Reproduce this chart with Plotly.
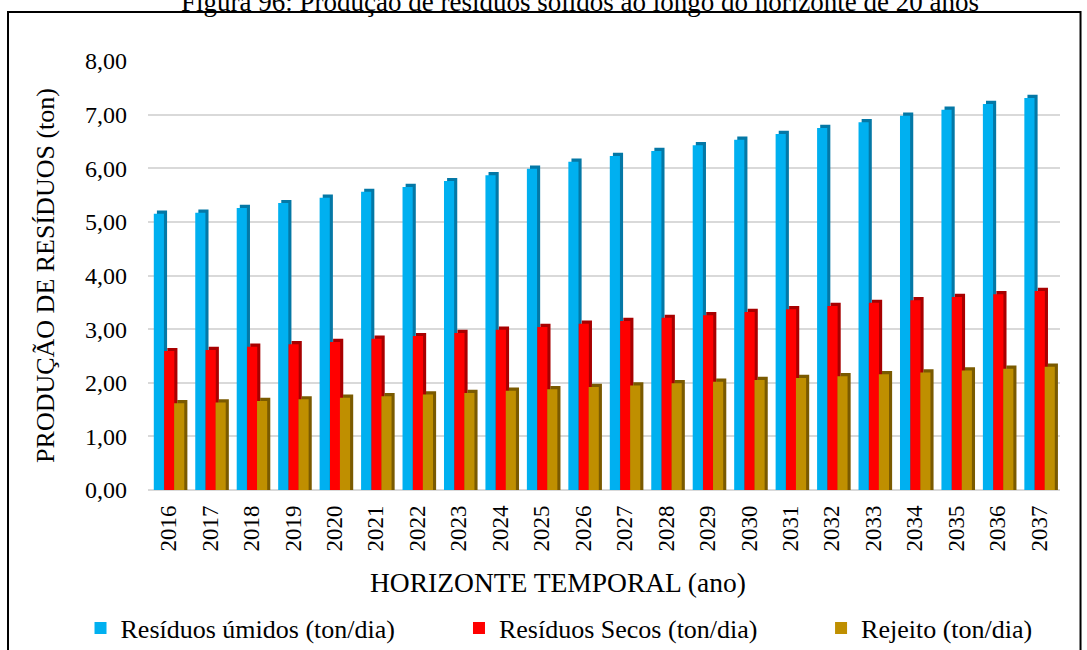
import plotly.graph_objects as go

# Waste production projection, 2016-2037 (ton/day)
anos = [str(a) for a in range(2016, 2038)]
residuos_umidos = [5.15, 5.17, 5.26, 5.35, 5.45, 5.56, 5.65, 5.76, 5.87, 5.99, 6.12,
                   6.23, 6.32, 6.43, 6.53, 6.64, 6.75, 6.86, 6.98, 7.09, 7.20, 7.31]
residuos_secos = [2.59, 2.61, 2.67, 2.72, 2.76, 2.82, 2.87, 2.93, 2.99, 3.04, 3.10,
                  3.15, 3.21, 3.26, 3.32, 3.37, 3.43, 3.49, 3.54, 3.60, 3.65, 3.71]
rejeito = [1.62, 1.63, 1.66, 1.69, 1.72, 1.75, 1.78, 1.81, 1.85, 1.88, 1.92,
           1.95, 1.99, 2.02, 2.05, 2.09, 2.12, 2.16, 2.19, 2.23, 2.26, 2.30]

# name, values, face colour, side colour, offset within the group, legend id, legend x
series = [
    ("Resíduos úmidos (ton/dia)", residuos_umidos, "#00B0F0", "#0478A6", -0.36, "legend", -0.074),
    ("Resíduos Secos (ton/dia)", residuos_secos, "#FF0000", "#A80000", -0.11, "legend2", 0.341),
    ("Rejeito (ton/dia)", rejeito, "#BF8F00", "#7A5A00", 0.13, "legend3", 0.738),
]

FONT = "Times New Roman, Liberation Serif, serif"
BAR_W = 0.245
DEPTH_X = 0.075   # sideways depth of the pseudo-3D face (category units)
DEPTH_Y = 0.06    # vertical depth of the pseudo-3D face (data units)

fig = go.Figure()
legends = {}
for nome, valores, cor, cor_lado, desloc, leg, leg_x in series:
    # darker back face gives each column a bit of depth
    fig.add_trace(go.Bar(
        x=anos, y=[v + DEPTH_Y for v in valores], offset=desloc + DEPTH_X, width=BAR_W,
        marker=dict(color=cor_lado, line=dict(width=0)), showlegend=False, hoverinfo="skip",
    ))
    fig.add_trace(go.Bar(
        x=anos, y=valores, offset=desloc, width=BAR_W, name=nome, legend=leg,
        marker=dict(color=cor, line=dict(width=0)),
    ))
    legends[leg] = dict(
        orientation="h", x=leg_x, y=-0.322, xanchor="left", yanchor="middle",
        itemwidth=30, bgcolor="rgba(0,0,0,0)",
        font=dict(family=FONT, size=26, color="black"),
    )

fig.update_layout(
    width=1087, height=650,
    barmode="overlay",
    separators=",.",
    paper_bgcolor="white", plot_bgcolor="white",
    margin=dict(l=148, r=27, t=61, b=160, autoexpand=False),
    font=dict(family=FONT, size=24, color="black"),
    xaxis=dict(
        type="category", tickangle=-90, showgrid=False, showline=False, ticks="",
        tickfont=dict(family=FONT, size=23), ticklabelstandoff=10,
    ),
    yaxis=dict(
        range=[0, 8], dtick=1, tickformat=".2f", showgrid=True, gridcolor="#D9D9D9",
        gridwidth=2, zeroline=True, zerolinecolor="#D9D9D9", zerolinewidth=2,
        showline=False, ticks="", tickfont=dict(family=FONT, size=24), ticklabelstandoff=20,
        title=dict(text="PRODUÇÃO DE RESÍDUOS (ton)", font=dict(family=FONT, size=26), standoff=22),
    ),
    shapes=[dict(
        type="rect", xref="paper", yref="paper",
        x0=-0.1535, x1=1.0225, y0=-0.5, y1=1.114,
        line=dict(color="black", width=2), fillcolor="rgba(0,0,0,0)", layer="below",
    )],
    annotations=[
        dict(
            text="Figura 96: Produção de resíduos sólidos ao longo do horizonte de 20 anos",
            xref="paper", yref="paper", x=0.474, y=1.1375, xanchor="center", yanchor="middle",
            showarrow=False, font=dict(family=FONT, size=27),
        ),
        dict(
            text="HORIZONTE TEMPORAL (ano)",
            xref="paper", yref="paper", x=0.45, y=-0.215, xanchor="center", yanchor="middle",
            showarrow=False, font=dict(family=FONT, size=27.5),
        ),
    ],
    **legends,
)

fig.write_html("out.html")
